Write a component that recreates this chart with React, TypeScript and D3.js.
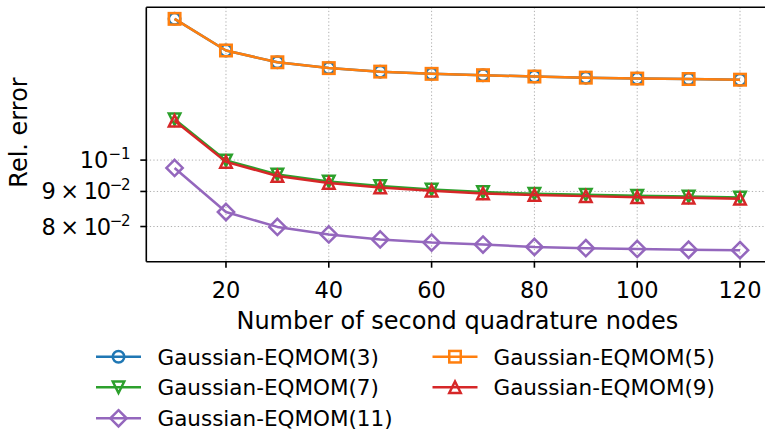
import React from "react";
import * as d3 from "d3";

const nodes = [10, 20, 30, 40, 50, 60, 70, 80, 90, 100, 110, 120];
const eqmom3 = [0.1607, 0.1445, 0.1389, 0.1362, 0.1346, 0.1336, 0.133, 0.1324, 0.1319, 0.1315, 0.1313, 0.131];
const eqmom5 = [0.1607, 0.1445, 0.1389, 0.1362, 0.1346, 0.1336, 0.133, 0.1324, 0.1319, 0.1315, 0.1313, 0.131];
const eqmom7 = [0.1147, 0.0999, 0.0953, 0.0931, 0.0917, 0.0906, 0.0898, 0.0893, 0.089, 0.0887, 0.0885, 0.0882];
const eqmom9 = [0.1141, 0.0994, 0.0948, 0.0926, 0.0912, 0.0902, 0.0894, 0.0889, 0.0886, 0.0883, 0.0881, 0.0878];
const eqmom11 = [0.0974, 0.084, 0.0799, 0.0779, 0.0766, 0.0758, 0.0753, 0.0747, 0.0744, 0.0742, 0.074, 0.0739];

const seriesNames = ["Gaussian-EQMOM(3)", "Gaussian-EQMOM(5)", "Gaussian-EQMOM(7)", "Gaussian-EQMOM(9)", "Gaussian-EQMOM(11)"];
const seriesValues = [eqmom3, eqmom5, eqmom7, eqmom9, eqmom11];
const seriesColors = ["#1f77b4", "#ff7f0e", "#2ca02c", "#d62728", "#9467bd"];
const seriesMarkers = ["circle", "square", "triangleDown", "triangleUp", "diamond"];

const xTicks = [20, 40, 60, 80, 100, 120];
const yTicks = [0.08, 0.09, 0.1];
const yTickMantissa = ["8 × 10", "9 × 10", "10"];
const yTickExponent = ["−2", "−2", "−1"];

const xLabel = "Number of second quadrature nodes";
const yLabel = "Rel. error";

const FONT = "DejaVu Sans, sans-serif";
const TICK_FS = 22.5;
const LABEL_FS = 24;
const LEG_FS = 21.5;
const LW = 2.5;
const MS = 11.5;

function Marker({ type, cx, cy, color }: { type: string; cx: number; cy: number; color: string }) {
  const h = MS / 2;
  const common = { fill: "none", stroke: color, strokeWidth: LW, strokeLinejoin: "miter" as const };
  if (type === "circle") return <circle cx={cx} cy={cy} r={h} {...common} />;
  if (type === "square") return <rect x={cx - h} y={cy - h} width={MS} height={MS} {...common} />;
  if (type === "triangleDown")
    return <path d={`M${cx},${cy + h}L${cx - h},${cy - h}L${cx + h},${cy - h}Z`} {...common} />;
  if (type === "triangleUp")
    return <path d={`M${cx},${cy - h}L${cx - h},${cy + h}L${cx + h},${cy + h}Z`} {...common} />;
  const d = h * Math.SQRT2;
  return <path d={`M${cx},${cy - d}L${cx + d},${cy}L${cx},${cy + d}L${cx - d},${cy}Z`} {...common} />;
}

export default function App() {
  const left = 146.3, right = 768.3, top = 7.3, bottom = 261.7;
  const xMin = d3.min(nodes)!, xMax = d3.max(nodes)!;
  const xPad = (xMax - xMin) * 0.05;
  const x = d3.scaleLinear().domain([xMin - xPad, xMax + xPad]).range([left, right]);

  const all = seriesValues.flat();
  const lmin = Math.log10(d3.min(all)!), lmax = Math.log10(d3.max(all)!);
  const lpad = (lmax - lmin) * 0.05;
  const y = d3.scaleLog().domain([10 ** (lmin - lpad), 10 ** (lmax + lpad)]).range([bottom, top]);

  const line = d3.line<number>().x((_, i) => x(nodes[i])).y((v) => y(v));

  const legendCols = [
    { handle: [96, 141], text: 157.5 },
    { handle: [432.5, 477.5], text: 493.5 },
  ];
  const legendRows = [356.7, 387.3, 418.3];
  const legendPos = [
    [0, 0],
    [1, 0],
    [0, 1],
    [1, 1],
    [0, 2],
  ];

  return (
    <svg width={765} height={431} style={{ position: "fixed", left: 0, top: 0, background: "#fff" }} fontFamily={FONT}>
      <rect width={765} height={431} fill="#fff" />
      {/* grid */}
      <g stroke="#b0b0b0" strokeWidth={1} strokeDasharray="1.3,2.2">
        {xTicks.map((t) => (
          <line key={"gx" + t} x1={x(t)} x2={x(t)} y1={top} y2={bottom} />
        ))}
        {yTicks.map((t) => (
          <line key={"gy" + t} x1={left} x2={right} y1={y(t)} y2={y(t)} />
        ))}
      </g>
      {/* series */}
      {seriesValues.map((vals, si) => (
        <g key={si}>
          <path d={line(vals)!} fill="none" stroke={seriesColors[si]} strokeWidth={LW} strokeLinejoin="round" />
          {vals.map((v, i) => (
            <Marker key={i} type={seriesMarkers[si]} cx={x(nodes[i])} cy={y(v)} color={seriesColors[si]} />
          ))}
        </g>
      ))}
      {/* spines */}
      <g stroke="#000" strokeWidth={1.6} fill="none">
        <line x1={left} x2={left} y1={top} y2={bottom} />
        <line x1={left} x2={right} y1={bottom} y2={bottom} />
        <line x1={left} x2={right} y1={top} y2={top} />
        <line x1={right} x2={right} y1={top} y2={bottom} />
      </g>
      {/* x ticks */}
      {xTicks.map((t) => (
        <g key={"xt" + t}>
          <line x1={x(t)} x2={x(t)} y1={bottom} y2={bottom + 6} stroke="#000" strokeWidth={1.6} />
          <text x={x(t)} y={297.5} fontSize={TICK_FS} textAnchor="middle" fill="#000">
            {t}
          </text>
        </g>
      ))}
      {/* y ticks */}
      {yTicks.map((t, i) => (
        <g key={"yt" + t}>
          <line x1={left - 6} x2={left} y1={y(t)} y2={y(t)} stroke="#000" strokeWidth={1.6} />
          <text
            x={130.5}
            y={y(t) + 8}
            fontSize={TICK_FS}
            textAnchor="end"
            fill="#000"
            {...(yTickMantissa[i].length > 3 ? { textLength: 89, lengthAdjust: "spacing" } : {})}
          >
            {yTickMantissa[i]}
            <tspan fontSize={15} dy={-9}>
              {yTickExponent[i]}
            </tspan>
          </text>
        </g>
      ))}
      {/* axis labels */}
      <text x={(left + right) / 2} y={329} fontSize={LABEL_FS} textAnchor="middle" fill="#000">
        {xLabel}
      </text>
      <text transform={`translate(26.5,132.5) rotate(-90)`} fontSize={LABEL_FS} textAnchor="middle" fill="#000">
        {yLabel}
      </text>
      {/* legend */}
      {seriesNames.map((name, si) => {
        const [c, r] = legendPos[si];
        const col = legendCols[c];
        const ly = legendRows[r];
        const mx = (col.handle[0] + col.handle[1]) / 2;
        return (
          <g key={"lg" + si}>
            <line x1={col.handle[0]} x2={col.handle[1]} y1={ly} y2={ly} stroke={seriesColors[si]} strokeWidth={LW} />
            <Marker type={seriesMarkers[si]} cx={mx} cy={ly} color={seriesColors[si]} />
            <text x={col.text} y={ly + 7.8} fontSize={LEG_FS} fill="#000">
              {name}
            </text>
          </g>
        );
      })}
    </svg>
  );
}
